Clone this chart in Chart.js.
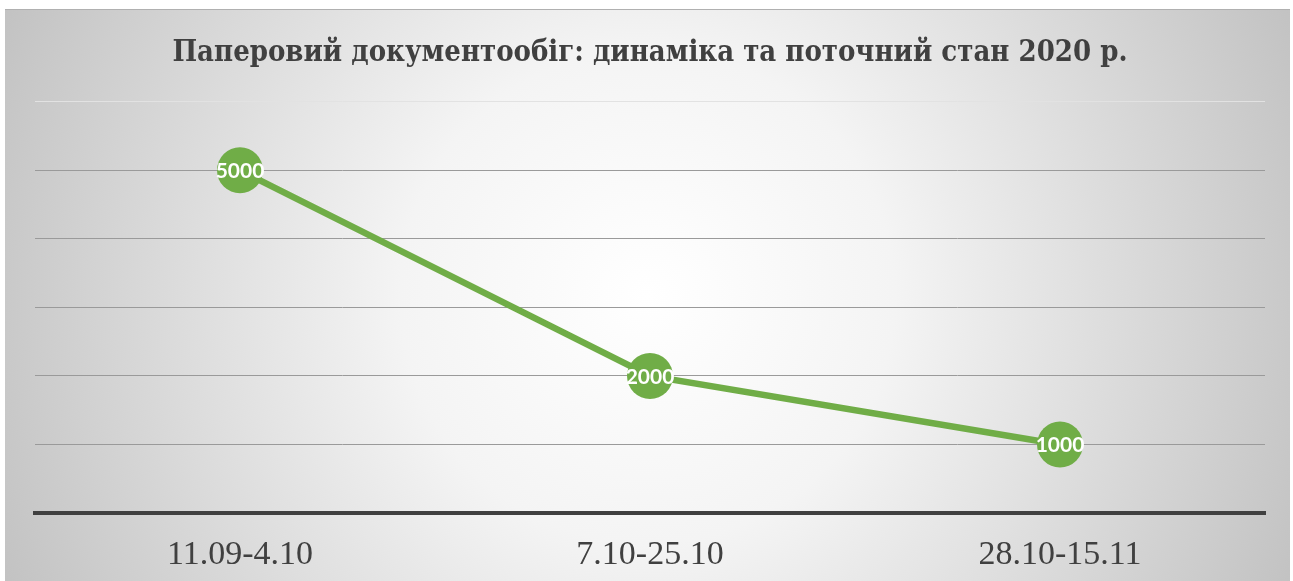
<!DOCTYPE html>
<html>
<head>
<meta charset="utf-8">
<script src="https://cdn.jsdelivr.net/npm/chart.js@4"></script>
<style>
  html, body { margin: 0; padding: 0; background: #fff; }
  #wrap {
    position: absolute; left: 5px; top: 9px; width: 1285px; height: 572px;
    border-top: 1px solid #b0b0b0;
  }
</style>
</head>
<body>
<div id="wrap"><canvas id="chart"></canvas></div>
<script>
const categories = ["11.09-4.10", "7.10-25.10", "28.10-15.11"];
const values = [5000, 2000, 1000];
const titleText = "Паперовий документообіг: динаміка та поточний стан 2020 р.";

// radial background like the office chart style
const bgPlugin = {
  id: "bg",
  beforeDraw(chart) {
    const { ctx, width, height } = chart;
    const g = ctx.createRadialGradient(width * 0.5, height * 0.5, 0, width * 0.5, height * 0.5, width * 0.55);
    g.addColorStop(0, "#ffffff");
    g.addColorStop(0.35, "#f4f4f4");
    g.addColorStop(1, "#c2c2c2");
    ctx.save();
    ctx.fillStyle = g;
    ctx.fillRect(0, 0, width, height);
    ctx.restore();
  }
};

// value labels inside the markers
const labelPlugin = {
  id: "valueLabels",
  afterDatasetsDraw(chart) {
    const { ctx } = chart;
    const meta = chart.getDatasetMeta(0);
    ctx.save();
    ctx.font = "bold 21px Lato, 'Open Sans', sans-serif";
    ctx.fillStyle = "#ffffff";
    ctx.textAlign = "center";
    ctx.textBaseline = "middle";
    meta.data.forEach((pt, i) => {
      ctx.fillText(String(values[i]), pt.x, pt.y + 1);
    });
    ctx.restore();
  }
};

new Chart(document.getElementById("chart"), {
  type: "line",
  data: {
    labels: categories,
    datasets: [{
      data: values,
      borderColor: "#70ad47",
      borderWidth: 6.5,
      backgroundColor: "#70ad47",
      pointRadius: 23,
      pointHoverRadius: 23,
      pointBorderWidth: 0,
      tension: 0
    }]
  },
  options: {
    responsive: true,
    maintainAspectRatio: false,
    animation: false,
    layout: { padding: { left: 30, right: 25, top: 0, bottom: 0 } },
    plugins: {
      legend: { display: false },
      tooltip: { enabled: false },
      title: {
        display: true,
        text: titleText,
        color: "#404040",
        font: { family: "'DejaVu Serif Condensed', 'Liberation Serif', serif", size: 29, weight: "bold" },
        padding: { top: 26, bottom: 31 }
      }
    },
    scales: {
      x: {
        offset: true,
        afterFit(scale) { scale.height = 69; },
        grid: { display: false, drawTicks: false },
        border: { display: true, color: "#404040", width: 4 },
        ticks: {
          color: "#404040",
          padding: 22,
          maxRotation: 0,
          font: { family: "'Liberation Serif', 'Times New Roman', serif", size: 34 }
        }
      },
      y: {
        min: 0,
        max: 6000,
        afterFit(scale) { scale.width = 0; },
        ticks: { display: false, stepSize: 1000 },
        border: { display: false },
        grid: {
          drawTicks: false,
          lineWidth: 1,
          color(ctx) {
            const v = ctx.tick ? ctx.tick.value : null;
            if (v === 0) return "rgba(0,0,0,0)";
            if (v === 6000) return "#e2e2e2";
            return "#9a9a9a";
          }
        }
      }
    }
  },
  plugins: [bgPlugin, labelPlugin]
});
</script>
</body>
</html>
